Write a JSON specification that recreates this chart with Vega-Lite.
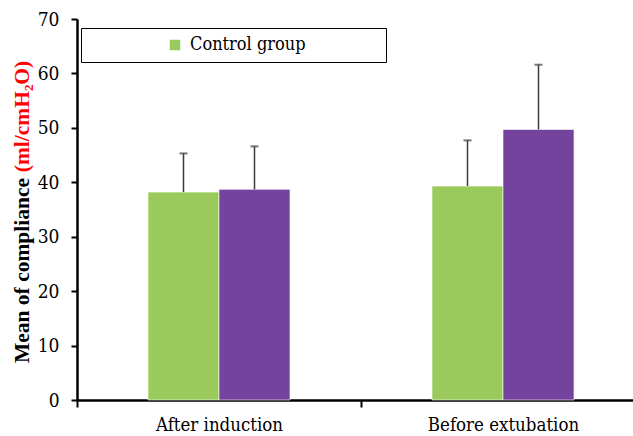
{
  "$schema": "https://vega.github.io/schema/vega-lite/v6.json",
  "width": 556,
  "height": 381,
  "autosize": {"type": "none"},
  "padding": {"left": 77, "top": 19, "right": 0, "bottom": 36},
  "background": "white",
  "config": {
    "view": {"stroke": null},
    "axis": {"grid": false, "labelColor": "black", "domainColor": "black", "tickColor": "black"}
  },
  "data": {
    "values": [
      {"time": "After induction", "group": "Control group", "mean": 38.2, "upper": 45.3},
      {"time": "After induction", "group": "Study group", "mean": 38.7, "upper": 46.6},
      {"time": "Before extubation", "group": "Control group", "mean": 39.3, "upper": 47.7},
      {"time": "Before extubation", "group": "Study group", "mean": 49.7, "upper": 61.6}
    ]
  },
  "encoding": {
    "x": {
      "field": "time",
      "type": "nominal",
      "sort": null,
      "scale": {"paddingInner": 0, "paddingOuter": 0, "range": [0, 568]},
      "axis": {
        "title": null,
        "labelAngle": 0,
        "labelFont": "DejaVu Serif Condensed",
        "labelFontSize": 18.5,
        "labelPadding": 8,
        "tickSize": 7,
        "tickWidth": 2,
        "tickBand": "extent",
        "domainWidth": 2.5
      }
    },
    "xOffset": {
      "field": "group",
      "type": "nominal",
      "scale": {"paddingInner": 0, "paddingOuter": 1}
    }
  },
  "layer": [
    {
      "mark": {"type": "bar", "stroke": "#ffffff", "strokeWidth": 0.6},
      "encoding": {
        "y": {
          "field": "mean",
          "type": "quantitative",
          "scale": {"domain": [0, 70]},
          "axis": {
            "values": [0, 10, 20, 30, 40, 50, 60, 70],
            "labelFont": "DejaVu Serif Condensed",
            "labelFontSize": 19,
            "labelPadding": 12,
            "tickSize": 6,
            "tickWidth": 2,
            "domainWidth": 2.5,
            "title": "Mean of compliance",
            "titleFont": "Liberation Serif",
            "titleFontSize": 21.5,
            "titleFontWeight": "bold",
            "titleColor": "black",
            "titleBaseline": "middle",
            "titleX": -55,
            "titleY": 251
          }
        },
        "color": {
          "field": "group",
          "type": "nominal",
          "scale": {"domain": ["Control group", "Study group"], "range": ["#9ACA5C", "#74439E"]},
          "legend": {
            "values": ["Control group"],
            "title": null,
            "orient": "none",
            "legendX": 4,
            "legendY": 9,
            "strokeColor": "black",
            "fillColor": "white",
            "padding": 8,
            "symbolType": "square",
            "symbolSize": 110,
            "symbolOffset": 77,
            "symbolStrokeWidth": 0,
            "labelFontSize": 18,
            "labelFont": "DejaVu Serif Condensed",
            "labelColor": "black",
            "labelOffset": 6,
            "labelLimit": 400,
            "labelExpr": "datum.label + '\u00a0\u00a0\u00a0\u00a0\u00a0\u00a0\u00a0\u00a0\u00a0\u00a0\u00a0\u00a0\u00a0\u00a0\u200b'"
          }
        }
      }
    },
    {
      "mark": {"type": "rule", "color": "#3a3a3a", "strokeWidth": 1.5},
      "encoding": {
        "y": {
          "field": "mean",
          "type": "quantitative",
          "scale": {"domain": [0, 70]},
          "axis": {
            "orient": "left",
            "labels": false,
            "ticks": false,
            "domain": false,
            "title": "(ml/cmH₂O)",
            "titleFont": "Liberation Serif",
            "titleFontSize": 21.5,
            "titleFontWeight": "bold",
            "titleColor": "#FF0000",
            "titleBaseline": "middle",
            "titleX": -55,
            "titleY": 97
          }
        },
        "y2": {"field": "upper"}
      }
    },
    {
      "mark": {"type": "tick", "color": "#3a3a3a", "thickness": 2, "size": 8},
      "encoding": {
        "y": {"field": "upper", "type": "quantitative", "scale": {"domain": [0, 70]}, "axis": null}
      }
    }
  ],
  "resolve": {"scale": {"y": "independent"}}
}
